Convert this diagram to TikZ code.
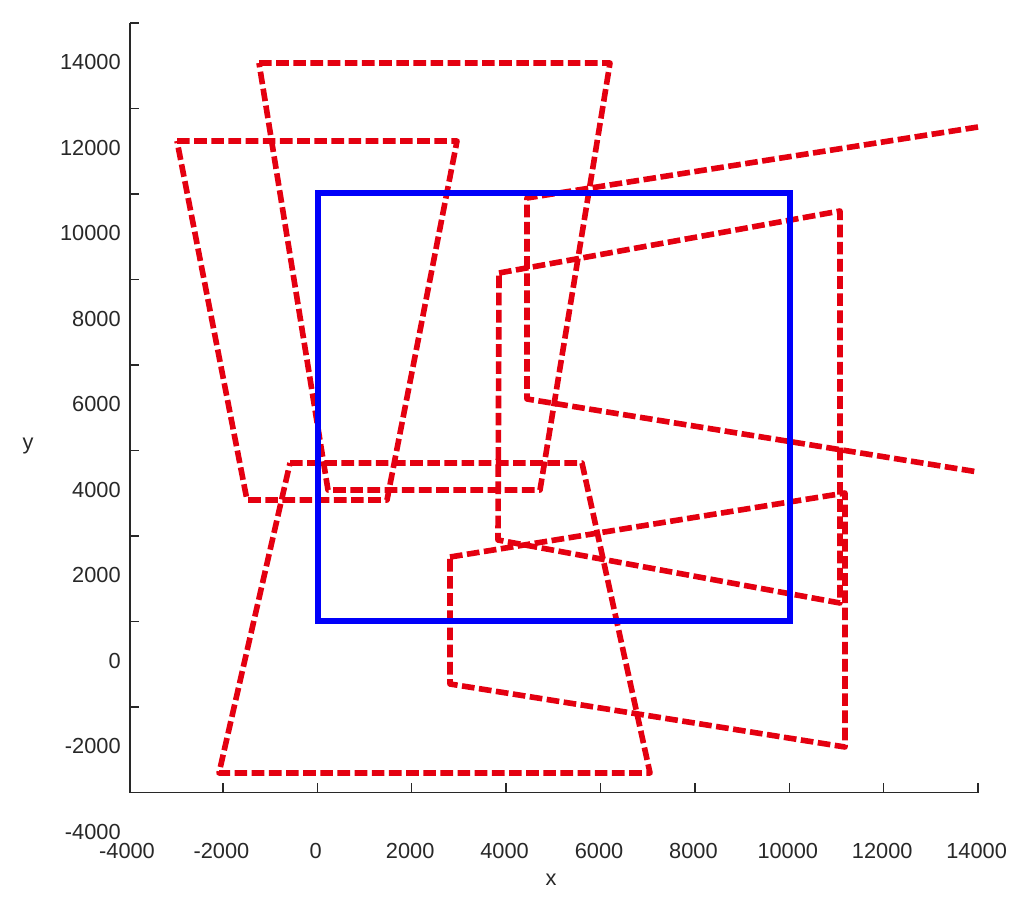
\documentclass[tikz,border=0pt]{standalone}
\usepackage{fontspec}
\setmainfont{Liberation Sans}
\definecolor{plotred}{RGB}{228,0,16}
\definecolor{plotblue}{RGB}{0,0,250}
\definecolor{axisgray}{RGB}{40,40,40}
\begin{document}
\begin{tikzpicture}[x=0.025cm,y=-0.025cm,
  redpoly/.style={draw=plotred, line width=4pt, dash pattern=on 9pt off 3.2pt, line join=round},
  bluebox/.style={draw=plotblue, line width=4.8pt},
  axisline/.style={draw=axisgray, line width=1pt},
  ticklabel/.style={text=axisgray, font=\fontsize{15.5}{18}\selectfont, inner sep=0pt}]
\useasboundingbox (0,0) rectangle (1024,900);
% axes
\draw[axisline] (130,23) -- (130,792.5) -- (978,792.5);
\foreach \k in {0,...,9} \draw[axisline] (130,{23+85.5*\k}) -- ++(9,0);
\foreach \k in {1,...,9} \draw[axisline] ({128.5+94.4*\k},792.5) -- ++(0,-10);
% tick labels
\foreach \v [count=\k from 0] in {14000,12000,10000,8000,6000,4000,2000,0,-2000,-4000}
  \node[ticklabel, anchor=east] (yl\k) at (121,{62+85.5*\k}) {\v};
\foreach \v [count=\k from 0] in {-4000,-2000,0,2000,4000,6000,8000,10000,12000,14000}
  \node[ticklabel] (xl\k) at ({127+94.4*\k},851) {\v};
\node[ticklabel] (xname) at (551,880) {x};
\node[ticklabel] (yname) at (28,446) {y};
% red quadrilaterals
\draw[redpoly] (259,63) -- (610,63) -- (540,490) -- (328,490) -- cycle;
\draw[redpoly] (177,141) -- (457,141) -- (387,500) -- (247,500) -- cycle;
\draw[redpoly] (290,463) -- (582,463) -- (650,773) -- (219,773) -- cycle;
\draw[redpoly] (978,127) -- (527,198) -- (527,399) -- (978,472);
\draw[redpoly] (499,273) -- (840,211) -- (840,603) -- (498,540) -- cycle;
\draw[redpoly] (450,557) -- (845,493) -- (845,747) -- (450,684) -- cycle;
% blue rectangle
\draw[bluebox] (318,193) rectangle (790,621);
\end{tikzpicture}
\end{document}
